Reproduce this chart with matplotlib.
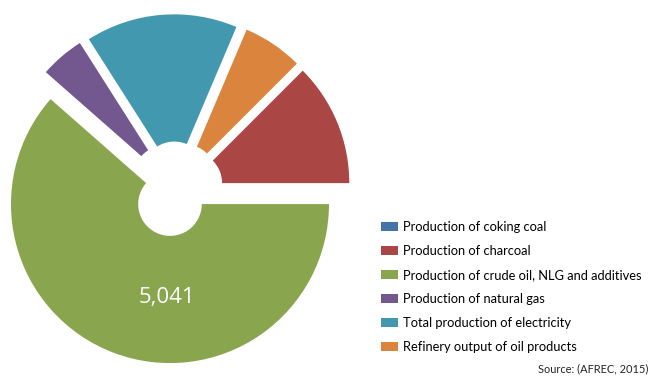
import matplotlib
matplotlib.use("Agg")
import matplotlib.pyplot as plt

# energy production by type (AFREC, 2015)
labels = ["Production of coking coal",
          "Production of charcoal",
          "Production of crude oil, NLG and additives",
          "Production of natural gas",
          "Total production of electricity",
          "Refinery output of oil products"]
values = [0, 1025, 5041, 369, 1264, 501]
colors = ["#4572A7", "#AA4643", "#89A54E", "#735890", "#4198AF", "#DB843D"]

fig = plt.figure(figsize=(6.59, 3.76), dpi=100)
ax = fig.add_axes([0, 0, 1, 1])

wedges, _ = ax.pie(values, colors=colors, startangle=45, counterclock=False,
                   explode=[0.1] * len(values),
                   wedgeprops=dict(width=0.8, linewidth=0))
ax.set_aspect("equal")
ax.set_xlim(-1.1044, 3.0403)
ax.set_ylim(-1.1748, 1.1899)
ax.axis("off")

ax.text(-0.055, -0.68, "5,041", color="white", fontsize=16,
        family="Open Sans", ha="center", va="center")

leg = ax.legend(wedges, labels, loc="upper left", bbox_to_anchor=(0.578, 0.413),
                bbox_transform=fig.transFigure, frameon=False,
                prop=dict(family="Lato", size=9.3),
                handlelength=1.3, handleheight=0.72, handletextpad=0.4,
                labelspacing=0.93, borderpad=0, borderaxespad=0)

fig.text(0.984, 0.004, "Source: (AFREC, 2015)", ha="right", va="bottom",
         fontsize=7.9, family="Lato", color="#222222")

fig.savefig("out.png", dpi=100)
